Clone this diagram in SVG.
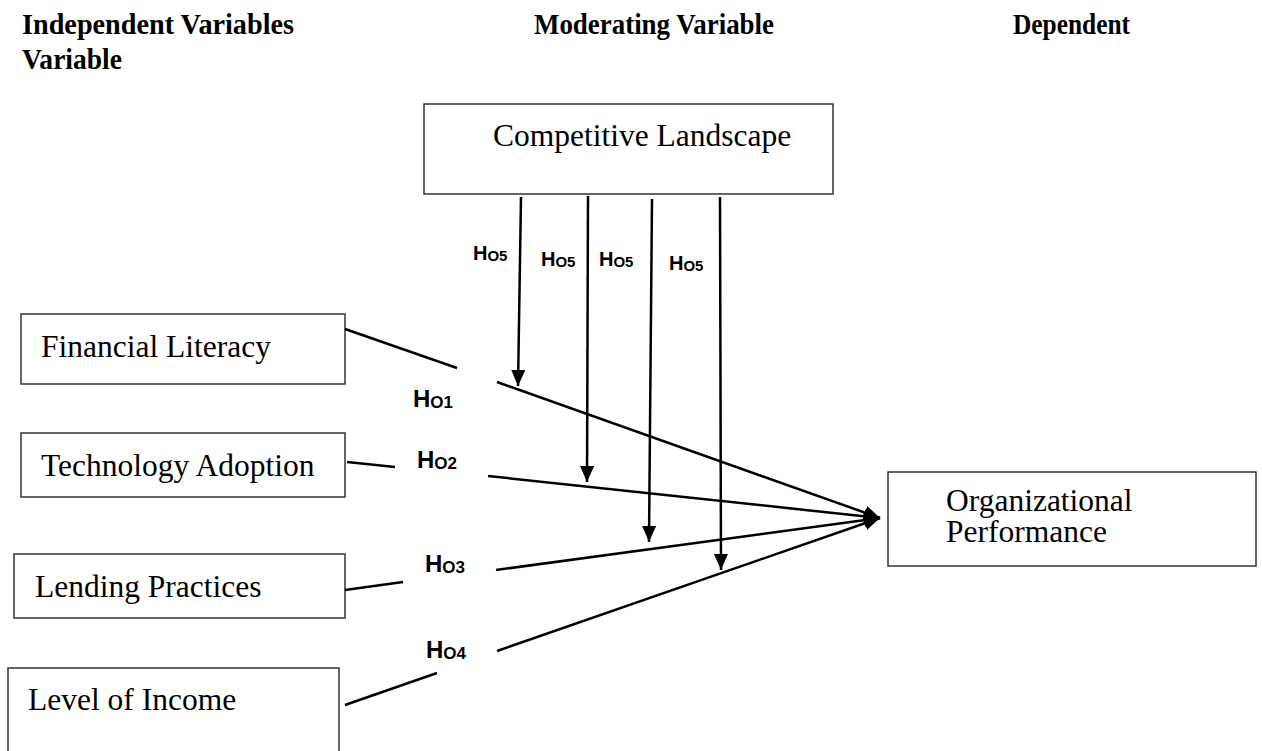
<svg xmlns="http://www.w3.org/2000/svg" width="1262" height="751" viewBox="0 0 1262 751">
<style>
.title{font-family:"Liberation Serif","Times New Roman",serif;font-weight:bold;font-size:30px;fill:#000}
.lbl{font-family:"Liberation Serif","Times New Roman",serif;font-size:31.5px;fill:#000}
.box{fill:#fff;stroke:#333;stroke-width:1.5}
.h{font-family:"Liberation Sans",Arial,sans-serif;font-weight:bold;font-size:24px;fill:#000}
.h5{font-family:"Liberation Sans",Arial,sans-serif;font-weight:bold;font-size:20px;fill:#000}
.sub{font-size:17px}
.sub5{font-size:15px}
.ln{stroke:#000;stroke-width:2.5;fill:none}
.arr{marker-end:url(#ah)}
</style>
<defs>
<marker id="ah" markerUnits="userSpaceOnUse" markerWidth="18" markerHeight="16" refX="16" refY="7" orient="auto">
<path d="M0,0 L16,7 L0,14 z" fill="#000"/>
</marker>
</defs>
<rect width="1262" height="751" fill="#fff"/>
<g id="titles">
<text class="title" x="22" y="34" textLength="272" lengthAdjust="spacingAndGlyphs">Independent Variables</text>
<text class="title" x="22" y="69" textLength="100" lengthAdjust="spacingAndGlyphs">Variable</text>
<text class="title" x="534" y="34" textLength="240" lengthAdjust="spacingAndGlyphs">Moderating Variable</text>
<text class="title" x="1013" y="34" textLength="117" lengthAdjust="spacingAndGlyphs">Dependent</text>
</g>
<g id="competitive-landscape">
<rect class="box" x="424" y="104" width="409" height="90"/>
<text class="lbl" x="493" y="146">Competitive Landscape</text>
</g>
<g id="financial-literacy">
<rect class="box" x="21" y="314" width="324" height="70"/>
<text class="lbl" x="41" y="357">Financial Literacy</text>
</g>
<g id="technology-adoption">
<rect class="box" x="21" y="433" width="324" height="64"/>
<text class="lbl" x="41" y="476">Technology Adoption</text>
</g>
<g id="lending-practices">
<rect class="box" x="14" y="554" width="331" height="64"/>
<text class="lbl" x="35" y="597">Lending Practices</text>
</g>
<g id="level-of-income">
<rect class="box" x="8" y="668" width="331" height="100"/>
<text class="lbl" x="28" y="710">Level of Income</text>
</g>
<g id="organizational-performance">
<rect class="box" x="888" y="472" width="368" height="94"/>
<text class="lbl" x="946" y="511">Organizational</text>
<text class="lbl" x="946" y="542">Performance</text>
</g>
<g id="connectors">
<line class="ln" x1="345" y1="329" x2="457" y2="368"/>
<line class="ln arr" x1="497" y1="382" x2="880" y2="518"/>
<line class="ln" x1="347" y1="462" x2="395" y2="467"/>
<line class="ln arr" x1="488" y1="476" x2="880" y2="518"/>
<line class="ln" x1="345" y1="590" x2="403" y2="582"/>
<line class="ln arr" x1="496" y1="570" x2="880" y2="518"/>
<line class="ln" x1="345" y1="705" x2="437" y2="673"/>
<line class="ln arr" x1="497" y1="651" x2="880" y2="518"/>
<line class="ln arr" x1="521" y1="197" x2="518" y2="386"/>
<line class="ln arr" x1="588" y1="196" x2="587" y2="482"/>
<line class="ln arr" x1="652" y1="199" x2="649" y2="542"/>
<line class="ln arr" x1="720" y1="197" x2="721" y2="570"/>
</g>
<g id="labels">
<text class="h" x="413" y="407">H<tspan class="sub" dy="1">O1</tspan></text>
<text class="h" x="417" y="468">H<tspan class="sub" dy="1">O2</tspan></text>
<text class="h" x="425" y="572">H<tspan class="sub" dy="1">O3</tspan></text>
<text class="h" x="426" y="658">H<tspan class="sub" dy="1">O4</tspan></text>
<text class="h5" x="473" y="260">H<tspan class="sub5" dy="1">O5</tspan></text>
<text class="h5" x="541" y="266">H<tspan class="sub5" dy="1">O5</tspan></text>
<text class="h5" x="599" y="266">H<tspan class="sub5" dy="1">O5</tspan></text>
<text class="h5" x="669" y="270">H<tspan class="sub5" dy="1">O5</tspan></text>
</g>
</svg>
